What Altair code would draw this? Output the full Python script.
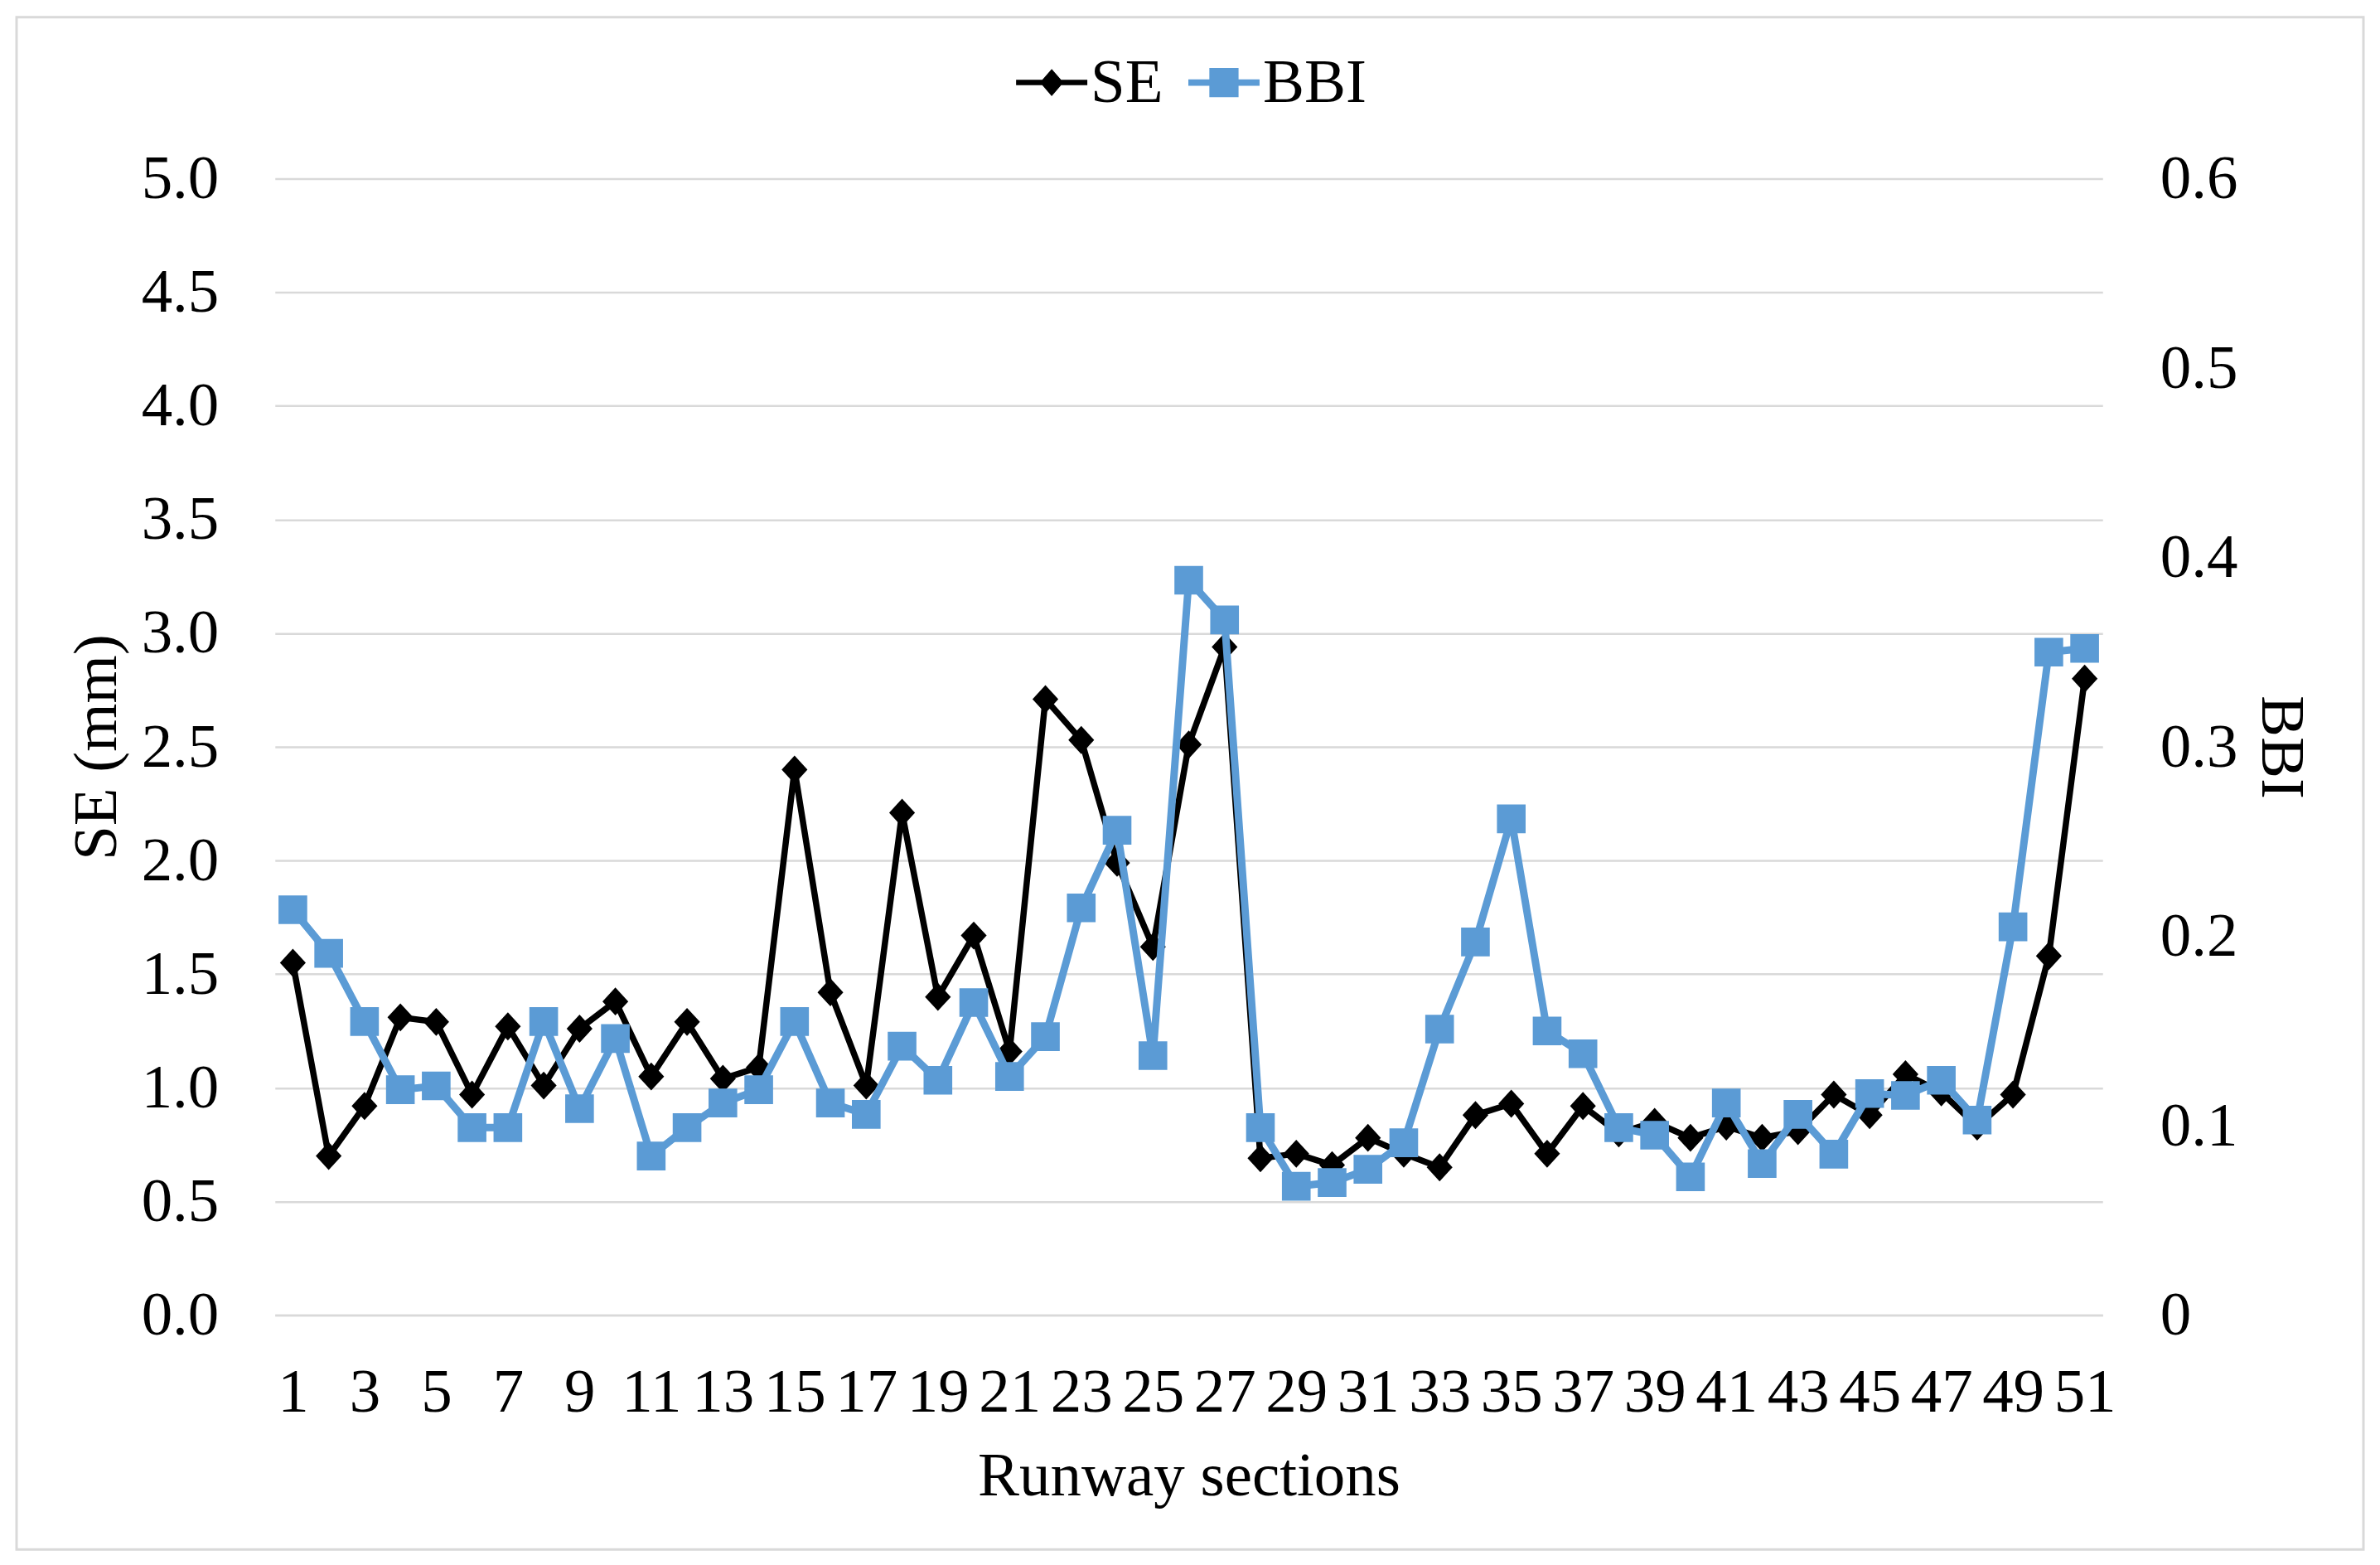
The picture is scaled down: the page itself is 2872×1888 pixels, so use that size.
import altair as alt
import pandas as pd

# ---- data ----
sections = list(range(1, 52))
se_values = [1.55, 0.70, 0.92, 1.31, 1.29, 0.97, 1.27, 1.01, 1.26, 1.38,
             1.05, 1.29, 1.04, 1.09, 2.40, 1.42, 1.01, 2.21, 1.40, 1.67,
             1.16, 2.71, 2.53, 1.99, 1.62, 2.51, 2.94, 0.69, 0.71, 0.66,
             0.78, 0.71, 0.65, 0.88, 0.93, 0.71, 0.92, 0.80, 0.85, 0.78,
             0.83, 0.78, 0.81, 0.97, 0.88, 1.06, 0.98, 0.83, 0.97, 1.58,
             2.80]
bbi_values = [0.214, 0.191, 0.155, 0.119, 0.121, 0.099, 0.099, 0.155, 0.109, 0.146,
              0.084, 0.099, 0.112, 0.119, 0.155, 0.112, 0.106, 0.142, 0.124, 0.165,
              0.126, 0.147, 0.215, 0.256, 0.137, 0.388, 0.367, 0.099, 0.068, 0.070,
              0.077, 0.091, 0.151, 0.197, 0.262, 0.150, 0.138, 0.099, 0.095, 0.073,
              0.112, 0.080, 0.106, 0.085, 0.117, 0.116, 0.124, 0.103, 0.205, 0.350,
              0.352]
series_names = ["SE", "BBI"]
series_colors = ["#000000", "#5B9BD5"]
se_ticks = [0, 0.5, 1.0, 1.5, 2.0, 2.5, 3.0, 3.5, 4.0, 4.5, 5.0]
bbi_ticks = [0, 0.1, 0.2, 0.3, 0.4, 0.5, 0.6]

df = pd.DataFrame({"section": sections, "SE": se_values, "BBI": bbi_values})

FONT = "Liberation Serif"
FS = 75
GRID = "#D9D9D9"

diamond_path = "M0,-1L0.92,0L0,1L-0.92,0Z"
leg_se = "M-1,-0.075H1V0.075H-1Z M0,-0.38L0.33,0L0,0.38L-0.33,0Z"
leg_bbi = "M-1,-0.09H1V0.09H-1Z M-0.41,-0.41H0.41V0.41H-0.41Z"


def make_legend(x, sym, col):
    return alt.Legend(
        orient="none", legendX=x, legendY=-159, direction="horizontal", title=None,
        symbolType=sym, symbolSize=7396, symbolFillColor=col, symbolStrokeWidth=0,
        symbolOpacity=1, labelOffset=4, padding=0,
        labelFont=FONT, labelFontSize=FS, labelColor="black",
    )


x_enc = alt.X(
    "section:O",
    scale=alt.Scale(type="point", padding=0.5),
    axis=alt.Axis(
        title="Runway sections",
        labelExpr="datum.value % 2 == 1 ? datum.label : ''",
        labelAngle=0, labelPadding=57, ticks=False, tickSize=0,
        domain=True, domainColor=GRID, domainWidth=2.5, grid=False,
        labelOverlap=False, titlePadding=27,
    ),
)

se_layer = alt.Chart(df).transform_calculate(series="'SE'").mark_line(
    strokeWidth=7.5,
    point=alt.OverlayMarkDef(shape=diamond_path, size=1150, filled=True, opacity=1),
).encode(
    x=x_enc,
    y=alt.Y("SE:Q", scale=alt.Scale(domain=[0, 5]),
            axis=alt.Axis(title="SE (mm)", orient="left", values=se_ticks, format=".1f",
                          grid=True, gridColor=GRID, gridWidth=2.5, domain=False,
                          ticks=False, tickSize=0, labelPadding=68, titlePadding=15)),
    color=alt.Color("series:N",
                    scale=alt.Scale(domain=[series_names[0]], range=[series_colors[0]]),
                    legend=make_legend(895, leg_se, series_colors[0])),
)

bbi_layer = alt.Chart(df).transform_calculate(series="'BBI'").mark_line(
    strokeWidth=9,
    point=alt.OverlayMarkDef(shape="square", size=1200, filled=True, opacity=1),
).encode(
    x=x_enc,
    y=alt.Y("BBI:Q", scale=alt.Scale(domain=[0, 0.6]),
            axis=alt.Axis(title="BBI", orient="right", values=bbi_ticks, format="~g",
                          grid=False, domain=False, ticks=False, tickSize=0,
                          labelPadding=69, titlePadding=14)),
    color=alt.Color("series:N",
                    scale=alt.Scale(domain=[series_names[1]], range=[series_colors[1]]),
                    legend=make_legend(1103, leg_bbi, series_colors[1])),
)

frame = alt.Chart(alt.Data(values=[{"a": 1}])).mark_rect(
    fillOpacity=0, stroke=GRID, strokeWidth=3
).encode(
    x=alt.value(-312), x2=alt.value(2522), y=alt.value(-195), y2=alt.value(1655)
)

chart = alt.layer(frame, se_layer, bbi_layer).resolve_scale(
    y="independent", color="independent"
).properties(
    width=2207, height=1372,
    padding={"left": 10, "top": 10, "right": 10, "bottom": 10},
).configure_view(
    strokeWidth=0
).configure_axis(
    labelFont=FONT, titleFont=FONT, labelFontSize=FS, titleFontSize=FS,
    labelColor="black", titleColor="black", titleFontWeight="normal",
)

chart.save("out.html", embed_options={"renderer": "svg", "actions": False})
